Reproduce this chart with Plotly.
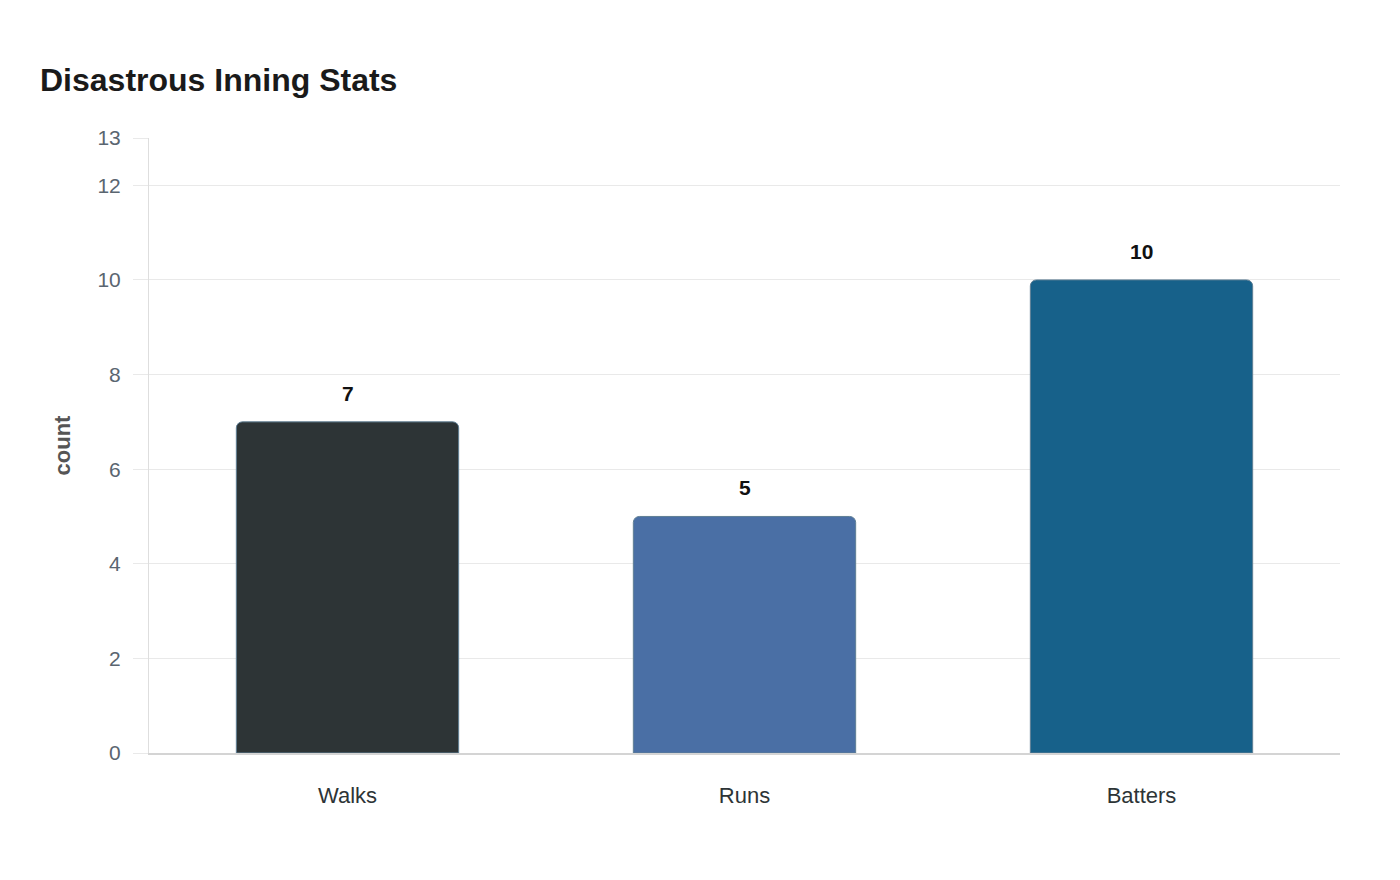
import plotly.graph_objects as go

categories = ['Walks', 'Runs', 'Batters']
counts = [7, 5, 10]
bar_colors = ['#2d3436', '#4a6fa5', '#17618a']
y_ticks = [0, 2, 4, 6, 8, 10, 12, 13]

fig = go.Figure()
fig.add_trace(
    go.Bar(
        x=categories,
        y=counts,
        width=0.56,
        marker=dict(color=bar_colors, cornerradius=6,
                    line=dict(color='#5f7f95', width=1)),
        hoverinfo='skip',
    )
)

# value labels floating above each bar
for cat, val in zip(categories, counts):
    fig.add_annotation(
        x=cat, y=val, text=f'<b>{val}</b>', showarrow=False,
        yanchor='bottom', yshift=15,
        font=dict(family='Liberation Sans', size=21, color='#111111'),
    )

fig.update_layout(
    width=1400,
    height=880,
    paper_bgcolor='white',
    plot_bgcolor='white',
    font=dict(family='Liberation Sans', color='#5a6570'),
    title=dict(text='<b>Disastrous Inning Stats</b>', x=32 / 1400, xanchor='left',
               y=1 - 72 / 880, yanchor='middle',
               font=dict(size=32, color='#1a1a1a')),
    margin=dict(l=141, r=68, t=130, b=135),
    showlegend=False,
)
fig.update_xaxes(
    showgrid=False,
    showline=True, linecolor='#d4d4d4', linewidth=2,
    tickfont=dict(size=22, color='#2d3436'),
    ticks='', ticklabelstandoff=22,
)
fig.update_yaxes(
    range=[0, 13],
    tickvals=y_ticks,
    showgrid=True, gridcolor='#e9e9e9', gridwidth=1,
    showline=True, linecolor='#dedede', linewidth=1,
    ticks='outside', ticklen=15, tickcolor='#e9e9e9',
    tickfont=dict(size=21, color='#5a6570'),
    ticklabelstandoff=8,
    zeroline=False,
    title=dict(text='<b>count</b>', font=dict(size=22, color='#555555'), standoff=20),
)

fig.write_html('out.html')
